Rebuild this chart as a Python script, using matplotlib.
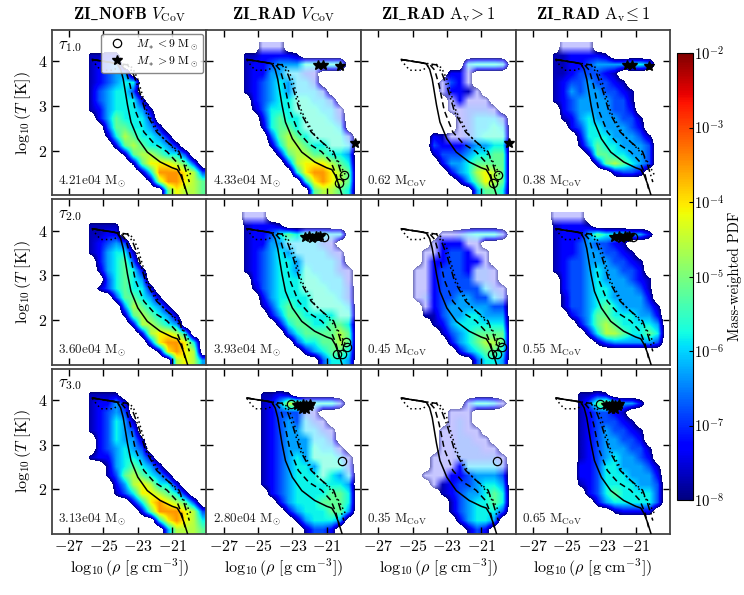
"""
Phase diagrams (density-temperature PDFs) for ZI_NOFB / ZI_RAD runs.
"""

import matplotlib
matplotlib.use("Agg")
import matplotlib.pyplot as plt
import matplotlib.colors as mcolors
from matplotlib.cm import ScalarMappable
from matplotlib.lines import Line2D
import numpy as np

plt.rcParams.update({
    "font.family": "serif",
    "font.serif": ["cmr10", "DejaVu Serif"],
    "mathtext.fontset": "cm",
    "axes.formatter.use_mathtext": True,
})

# coarse maps of the mass-weighted PDF
# rows run from log T = 4.3 (top) to 1.1 (bottom) in steps of 0.2,
# columns from log rho = -26.75 to -19.25 in steps of 0.5
# digit 1-9 = filled cell of that level, a-e = sparse speckle of level 1-5,
# "." = empty
NOFB_T1 = [
    "................",
    "..1122..........",
    "..1234..........",
    "..12344.........",
    "..123455........",
    "..134553........",
    "..1345552.......",
    "..12455541......",
    "...2465553......",
    "....3665542.....",
    "....15765542....",
    ".....26765542...",
    "......16776553..",
    ".......16888763.",
    "........15999873",
    ".........1799876",
    "...........68776",
]
RAD_T1 = [
    "....aaa.........",
    "..1122221.......",
    "..1223444ddddd..",
    "..12244ccba.....",
    "..123454ccb.....",
    "..123454cccb....",
    "...23455ddccb...",
    "...13555dddcca..",
    "....25655dddcb..",
    "....15665ddddc..",
    ".....36765ddddb.",
    ".....1577655ddc.",
    "......267766554.",
    ".......37888765.",
    "........5899876.",
    ".........589876.",
    "..........67765.",
]
AVHI_T1 = [
    "................",
    "................",
    "..........cdddc.",
    "........22a.....",
    ".......a32a.....",
    ".......a221a....",
    "........a2aaa...",
    "........aabbba..",
    ".........abcccb.",
    ".........abccdc.",
    "......21aabcddd.",
    "......322234455.",
    "......133345566.",
    ".......24456666.",
    "........2457876.",
    ".........146876.",
    "...........4665.",
]
AVLO_T1 = [
    "...aaaa.........",
    "..1122221.......",
    "..112234444554..",
    "..11233321......",
    "..123343321.....",
    "..1243443321....",
    "..1234444331....",
    "...234444332....",
    "...1245444331...",
    "....235544432...",
    ".....255544431..",
    ".....146554443..",
    "......16655443..",
    ".......2676543..",
    ".........2332...",
    "................",
    "................",
]
NOFB_T2 = [
    "................",
    "..1111..........",
    "..1122..........",
    "..12343.........",
    "..124551........",
    "...24563........",
    "...145652.......",
    "....35654.......",
    "...1356552......",
    ".....366541.....",
    "......476541....",
    "......1676541...",
    ".......277654...",
    "........278875..",
    ".........389985.",
    "..........18987.",
    "............7874",
]
RAD_T2 = [
    "..aaa...........",
    "..12221.........",
    "..1223565dddcc..",
    "..12244ccccba...",
    "..123454ccccba..",
    "..1234554ccccb..",
    "..1234554dcccba.",
    "...234555ddccca.",
    "...134555dddccb.",
    "....245555dddcb.",
    "....135655ddddc.",
    ".....24665555dd.",
    "......256655665.",
    ".......35666676.",
    "........3556676.",
    ".........245665.",
    "...........3554.",
]
AVHI_T2 = [
    "................",
    "................",
    ".......aabcdddb.",
    "......a222aa....",
    ".....aa2332aa...",
    ".....a223322a...",
    "....aa23332bba..",
    "....aa23333bba..",
    "....aa233333cba.",
    "....ab2334433cb.",
    ".....a234444433.",
    ".....1134455444.",
    "......124555555.",
    ".......13456666.",
    "........2456776.",
    ".........245665.",
    "...........3554.",
]
AVLO_T2 = [
    "..aaaa..........",
    "..12221.........",
    "..122246555442..",
    "..122343321.....",
    "..1223443321....",
    "..12334443321...",
    "..12334544332...",
    "...23345444321..",
    "...23345544431..",
    "...13345544442..",
    "...133456544431.",
    "....23466555442.",
    ".....2467655554.",
    "......257765565.",
    ".......13444443.",
    "................",
    "................",
]
NOFB_T3 = [
    "................",
    "..1111..........",
    "..12242.........",
    "..12343.........",
    "..123541........",
    "..123543........",
    "...235441.......",
    "...234543.......",
    "..12245542......",
    "....1456542.....",
    "....13676542....",
    ".....24787552...",
    ".....135887652..",
    ".......25898763.",
    "........26999873",
    "..........589875",
    "...........47776",
]
RAD_T3 = [
    "................",
    "....1121........",
    "....12477ddddb..",
    "....12333ba.....",
    "....12343cba....",
    "....12344ccba...",
    "....123444ccb...",
    "....123444dcca..",
    "....123454dddca.",
    "....1234554dddb.",
    "....1234555d54c.",
    "....12345555554.",
    ".....2345555665.",
    "......245556665.",
    ".......24555664.",
    "........145554..",
    ".........1332...",
]
AVHI_T3 = [
    "................",
    "................",
    "..........bddca.",
    "........aaa.....",
    "........aba.....",
    ".......aabaa....",
    ".......aabbaa...",
    ".......aabbbaa..",
    "......aaabbbbba.",
    "......aaa2ccccb.",
    ".....aaa2234443.",
    "......a12334554.",
    ".......12344565.",
    "........1345565.",
    "........1345553.",
    ".........24554..",
    "..........132...",
]
AVLO_T3 = [
    "................",
    ".....1121.......",
    ".....13675442...",
    ".....123321.....",
    ".....1233321....",
    ".....12343321...",
    ".....12344332...",
    ".....123444331..",
    ".....123454432..",
    ".....2235544431.",
    ".....2235554442.",
    ".....1235555443.",
    "......235655553.",
    ".......24555553.",
    ".........12222..",
    "................",
    "................",
]
# log10 PDF of filled levels 1..9 and of sparse levels a..e
LEVELS = [-7.7, -7.3, -6.8, -6.3, -5.8, -5.2, -4.6, -4.1, -3.5]
SPARSE_LEVELS = [-7.3, -6.8, -6.0, -5.6, -5.2]
SPARSE_ALPHA = [0.22, 0.3, 0.38, 0.42, 0.45]

# equilibrium tracks (same in every panel)
SOLID_X = [-25.65, -25.0, -24.5, -24.2, -24.0, -23.85, -23.6, -23.4, -23.0, -22.45, -21.7, -21.0, -20.7, -20.5, -20.3, -20.1]
SOLID_Y = [4.04, 4.0, 3.97, 3.95, 3.82, 3.6, 3.02, 2.64, 2.27, 1.97, 1.75, 1.62, 1.58, 1.45, 1.25, 1.0]
DASH1_X = [-25.65, -25.0, -24.4, -24.0, -23.7, -23.45, -23.15, -22.65, -22.05, -21.3, -20.75, -20.45, -20.25]
DASH1_Y = [4.04, 4.0, 3.96, 3.93, 3.8, 3.46, 2.9, 2.42, 2.16, 1.98, 1.75, 1.46, 1.15]
DASH2_X = [-25.65, -25.0, -24.3, -23.6, -23.3, -22.95, -22.55, -21.9, -21.3, -20.6, -20.3, -20.0]
DASH2_Y = [4.04, 4.0, 3.96, 3.92, 3.75, 3.39, 2.87, 2.42, 2.2, 1.98, 1.68, 1.3]
DOT_X = [-25.65, -25.4, -25.15, -24.4, -24.1, -23.6, -23.3, -23.0, -22.45, -21.7, -20.9, -20.3, -19.9]
DOT_Y = [4.03, 3.9, 3.8, 3.8, 3.9, 3.93, 3.85, 3.6, 2.87, 2.35, 2.05, 1.75, 1.45]

# sink particles: stars (M > 9 Msun) and circles (M < 9 Msun), split by Av
STAR_HI_X = [[-19.35], [], []]
STAR_HI_Y = [[2.17], [], []]
STAR_LO_X = [[-21.5, -21.2, -20.2],
             [-22.25, -22.0, -21.85, -21.65, -21.5, -21.4],
             [-22.7, -22.55, -22.45, -22.4, -22.3, -22.2, -22.2, -22.05, -21.95]]
STAR_LO_Y = [[3.92, 3.92, 3.9],
             [3.86, 3.88, 3.84, 3.87, 3.85, 3.88],
             [3.88, 3.86, 3.8, 3.9, 3.84, 3.88, 3.8, 3.86, 3.9]]
CIRC_HI_X = [[-20.0, -20.3], [-20.38, -20.09, -19.9, -19.8], [-20.1]]
CIRC_HI_Y = [[1.45, 1.28], [1.25, 1.25, 1.5, 1.4], [2.64]]
CIRC_LO_X = [[], [-21.15], [-23.1]]
CIRC_LO_Y = [[], [3.86], [3.9]]

TAU_LABELS = [r"$\tau_{1.0}$", r"$\tau_{2.0}$", r"$\tau_{3.0}$"]
MASS_LABELS = [
    [r"$4.21{\rm e}04\ {\rm M}_{\!\odot}$", r"$4.33{\rm e}04\ {\rm M}_{\!\odot}$",
     r"$0.62\ {\rm M_{CoV}}$", r"$0.38\ {\rm M_{CoV}}$"],
    [r"$3.60{\rm e}04\ {\rm M}_{\!\odot}$", r"$3.93{\rm e}04\ {\rm M}_{\!\odot}$",
     r"$0.45\ {\rm M_{CoV}}$", r"$0.55\ {\rm M_{CoV}}$"],
    [r"$3.13{\rm e}04\ {\rm M}_{\!\odot}$", r"$2.80{\rm e}04\ {\rm M}_{\!\odot}$",
     r"$0.35\ {\rm M_{CoV}}$", r"$0.65\ {\rm M_{CoV}}$"],
]
COL_TITLES = [
    r"$\mathbf{ZI\_NOFB}\ V_{\rm CoV}$",
    r"$\mathbf{ZI\_RAD}\ V_{\rm CoV}$",
    r"$\mathbf{ZI\_RAD}\ {\rm A_v}\!>1$",
    r"$\mathbf{ZI\_RAD}\ {\rm A_v}\!\leq 1$",
]
MAPS = [
    [NOFB_T1, RAD_T1, AVHI_T1, AVLO_T1],
    [NOFB_T2, RAD_T2, AVHI_T2, AVLO_T2],
    [NOFB_T3, RAD_T3, AVHI_T3, AVLO_T3],
]

W_PX, H_PX = 744, 595
COL_X = [52, 206.5, 361, 515.5]
ROW_Y = [30, 199.25, 368.5]
PW, PH = 154.5, 165.5


def rect(x, y, w, h):
    return [x / W_PX, 1 - (y + h) / H_PX, w / W_PX, h / H_PX]


def decode(rows):
    vals, alpha = [], []
    for r in rows:
        vr, ar = [], []
        for c in r.ljust(16, ".")[:16]:
            if c.isdigit():
                vr.append(LEVELS[int(c) - 1]); ar.append(1.0)
            elif c.isalpha():
                k = "abcde".index(c)
                vr.append(SPARSE_LEVELS[k]); ar.append(SPARSE_ALPHA[k])
            else:
                vr.append(-9.0); ar.append(1.0)
        vals.append(vr); alpha.append(ar)
    return np.array(vals)[::-1], np.array(alpha)[::-1]


cmap = plt.get_cmap("jet").copy()
cmap.set_under((1, 1, 1, 0))

fig = plt.figure(figsize=(W_PX / 100, H_PX / 100), dpi=100)

for i in range(3):
    for j in range(4):
        ax = fig.add_axes(rect(COL_X[j], ROW_Y[i], PW, PH))
        vals, alpha = decode(MAPS[i][j])
        ax.imshow(vals, alpha=alpha, origin="lower", extent=[-27, -19, 1.0, 4.4],
                  aspect="auto", cmap=cmap, vmin=-8, vmax=-2,
                  interpolation="bilinear", interpolation_stage="data", zorder=1)

        ax.plot(SOLID_X, SOLID_Y, color="k", lw=1.1, zorder=3)
        ax.plot(DASH1_X, DASH1_Y, color="k", lw=1.1, ls=(0, (4, 2.5)), zorder=3)
        ax.plot(DASH2_X, DASH2_Y, color="k", lw=1.1, ls=(0, (5, 2, 1, 2)), zorder=3)
        ax.plot(DOT_X, DOT_Y, color="k", lw=1.1, ls=(0, (1, 2)), zorder=3)

        sx, sy, cx, cy = [], [], [], []
        if j in (1, 2):
            sx += STAR_HI_X[i]; sy += STAR_HI_Y[i]
            cx += CIRC_HI_X[i]; cy += CIRC_HI_Y[i]
        if j in (1, 3):
            sx += STAR_LO_X[i]; sy += STAR_LO_Y[i]
            cx += CIRC_LO_X[i]; cy += CIRC_LO_Y[i]
        ax.plot(cx, cy, ls="none", marker="o", ms=6, mfc="none", mec="k", mew=0.9, zorder=4)
        ax.plot(sx, sy, ls="none", marker="*", ms=7, color="k", zorder=5)

        ax.set_xlim(-28, -19)
        ax.set_ylim(1.0, 4.7)
        ax.set_xticks([-27, -25, -23, -21])
        ax.set_yticks([2, 3, 4])
        ax.tick_params(direction="in", top=True, right=True, length=5, width=1,
                       labelsize=11.5, colors="k")
        for sp in ax.spines.values():
            sp.set_linewidth(1.3)
            sp.set_color("#444444")

        if j == 0:
            ax.set_ylabel(r"$\log_{10}(T\ [{\rm K}])$", fontsize=11.5, labelpad=3)
            ax.text(0.04, 0.95, TAU_LABELS[i], transform=ax.transAxes, fontsize=12,
                    va="top", ha="left")
        else:
            ax.tick_params(labelleft=False)
        if i == 2:
            ax.set_xlabel(r"$\log_{10}(\rho\ [{\rm g\ cm^{-3}}])$", fontsize=11.5, labelpad=2)
        else:
            ax.tick_params(labelbottom=False)

        ax.text(0.04, 0.04, MASS_LABELS[i][j], transform=ax.transAxes, fontsize=9.5,
                va="bottom", ha="left", color="#222222")

        if i == 0 and j == 0:
            handles = [
                Line2D([], [], ls="none", marker="o", ms=6, mfc="none", mec="k", mew=0.9),
                Line2D([], [], ls="none", marker="*", ms=7, color="k"),
            ]
            ax.legend(handles, [r"$M_* < 9\ {\rm M}_\odot$", r"$M_* > 9\ {\rm M}_\odot$"],
                      loc="upper right", fontsize=8.5, borderaxespad=0.3,
                      handletextpad=0.6, labelspacing=0.2, borderpad=0.35,
                      framealpha=0.85, edgecolor="0.45")

for j in range(4):
    fig.text((COL_X[j] + PW / 2) / W_PX, 1 - 15 / H_PX, COL_TITLES[j],
             ha="center", va="center", fontsize=12)

cax = fig.add_axes(rect(677, 53, 16, 447))
sm = ScalarMappable(norm=mcolors.LogNorm(1e-8, 1e-2), cmap="jet")
cb = fig.colorbar(sm, cax=cax)
cb.ax.tick_params(labelsize=10.5, length=3, width=0.8, direction="in", pad=1)
cb.ax.tick_params(which="minor", length=0)
cb.outline.set_linewidth(0.8)
cb.set_label("Mass-weighted PDF", fontsize=10.5, labelpad=2)

fig.savefig("out.png", dpi=100)
plt.close(fig)
